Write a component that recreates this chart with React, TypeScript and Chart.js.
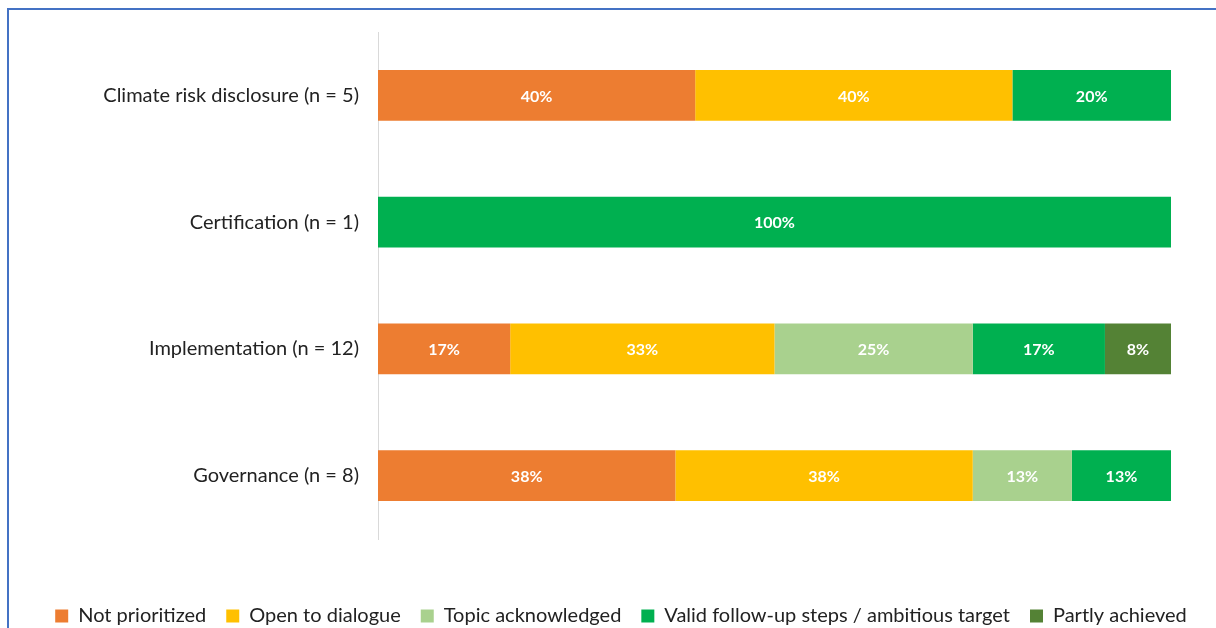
import React, { useEffect, useRef } from "react";
import { Chart, registerables } from "chart.js";

Chart.register(...registerables);

const categories = [
  "Climate risk disclosure (n = 5)",
  "Certification (n = 1)",
  "Implementation (n = 12)",
  "Governance (n = 8)",
];

const seriesNames = [
  "Not prioritized",
  "Open to dialogue",
  "Topic acknowledged",
  "Valid follow-up steps / ambitious target",
  "Partly achieved",
];

const notPrioritized = [40, 0, 16.67, 37.5];
const openToDialogue = [40, 0, 33.33, 37.5];
const topicAcknowledged = [0, 0, 25, 12.5];
const validFollowUp = [20, 100, 16.67, 12.5];
const partlyAchieved = [0, 0, 8.33, 0];

const seriesColors = ["#ED7D31", "#FFC000", "#A9D18E", "#00B050", "#548235"];

const FONT = "Lato, 'Open Sans', sans-serif";

const barLabels = {
  id: "barLabels",
  afterDatasetsDraw(chart: any) {
    const ctx = chart.ctx;
    ctx.save();
    ctx.fillStyle = "#ffffff";
    ctx.font = `bold 16px ${FONT}`;
    ctx.textAlign = "center";
    ctx.textBaseline = "middle";
    chart.data.datasets.forEach((ds: any, di: number) => {
      const meta = chart.getDatasetMeta(di);
      meta.data.forEach((bar: any, i: number) => {
        const v = ds.data[i];
        if (!v) return;
        const x = (bar.x + bar.base) / 2;
        ctx.fillText(Math.round(v) + "%", x, bar.y + 1);
      });
    });
    ctx.restore();
  },
};

export default function App() {
  const ref = useRef<HTMLCanvasElement | null>(null);

  useEffect(() => {
    if (!ref.current) return;
    const allData = [notPrioritized, openToDialogue, topicAcknowledged, validFollowUp, partlyAchieved];
    const chart = new Chart(ref.current, {
      type: "bar",
      data: {
        labels: categories,
        datasets: seriesNames.map((name, i) => ({
          label: name,
          data: allData[i],
          backgroundColor: seriesColors[i],
          borderWidth: 0,
          categoryPercentage: 1,
          barPercentage: 0.4,
        })),
      },
      options: {
        indexAxis: "y",
        animation: false,
        responsive: false,
        maintainAspectRatio: false,
        layout: { padding: { top: 22, right: 0, bottom: 10, left: 16 } },
        scales: {
          x: {
            stacked: true,
            min: 0,
            max: 100,
            display: true,
            grid: { display: false, drawTicks: false },
            border: { display: false },
            ticks: { display: false },
            afterFit: (scale: any) => {
              scale.height = 47;
            },
          },
          y: {
            stacked: true,
            grid: { display: false, drawTicks: false },
            border: { display: true, color: "#d9d9d9", width: 1 },
            ticks: { color: "#222222", font: { family: FONT, size: 20 }, padding: 19 },
            afterFit: (scale: any) => {
              scale.width = 352;
            },
          },
          yRight: {
            type: "category",
            position: "right",
            display: true,
            grid: { display: false, drawTicks: false },
            border: { display: false },
            ticks: { display: false },
            afterFit: (scale: any) => {
              scale.width = 45;
            },
          },
        },
        plugins: {
          legend: {
            position: "bottom",
            labels: {
              boxWidth: 13,
              boxHeight: 13,
              padding: 20,
              color: "#222222",
              font: { family: FONT, size: 20 },
            },
          },
          tooltip: { enabled: false },
        },
      },
      plugins: [barLabels],
    });
    return () => chart.destroy();
  }, []);

  return (
    <div style={{ position: "fixed", left: 0, top: 0, width: 1216, height: 628, overflow: "hidden", background: "#fff" }}>
      <div
        style={{
          position: "absolute",
          left: 7,
          top: 8,
          width: 1230,
          height: 640,
          borderTop: "2px solid #4472C4",
          borderLeft: "2px solid #4472C4",
          boxSizing: "border-box",
        }}
      />
      <div style={{ position: "absolute", left: 10, top: 1, width: 1206, height: 645 }}>
        <canvas ref={ref} width={1206} height={645} />
      </div>
    </div>
  );
}
